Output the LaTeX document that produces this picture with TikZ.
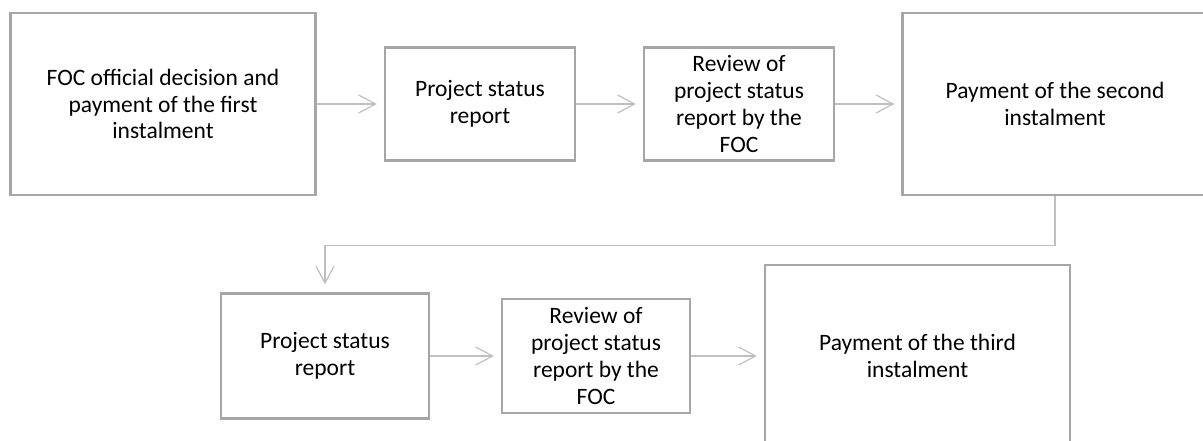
\documentclass[tikz,border=0pt]{standalone}
\usepackage{fontspec}
\setmainfont{Carlito}
\usetikzlibrary{arrows.meta}
\definecolor{boxgray}{HTML}{A6A6A6}
\definecolor{linegray}{HTML}{BFBFBF}
\begin{document}
\begin{tikzpicture}[x=1pt,y=-1pt,
    stage/.style={draw=boxgray,line width=2.2pt,inner sep=0pt,align=center,
      font=\fontsize{23.5}{26.7}\selectfont},
    big/.style={stage,minimum width=305pt,minimum height=182pt},
    flow/.style={draw=linegray,line width=1.2pt,
      -{Straight Barb[length=17pt,width=18pt]},shorten >=7pt}]
      \path[use as bounding box] (0,0) rectangle (1203,441);
      % first row
      \node[big] at (163,104) (fd) {FOC official decision and\\payment of the first\\instalment};
      \node[stage,minimum width=190pt,minimum height=113pt] at (480,104) (r1) {Project status\\report};
      \node[stage,minimum width=190pt,minimum height=113pt] at (739,104) (v1) {Review of\\project status\\report by the\\FOC};
      \node[big] at (1055,104) (p2) {Payment of the second\\instalment};
      % second row
      \node[stage,minimum width=208pt,minimum height=125pt] at (325,356) (r2) {Project status\\report};
      \node[stage,minimum width=188pt,minimum height=114pt] at (596,356) (v2) {Review of\\project status\\report by the\\FOC};
      \node[big] at (917.5,356) (p3) {Payment of the third\\instalment};
      \path[flow] (fd) -- (r1);
      \path[flow] (r1) -- (v1);
      \path[flow] (v1) -- (p2);
      \path[flow,shorten >=8pt] (p2.south) -- ++(0,49) -| (r2.north);
      \path[flow] (r2) -- (v2);
      \path[flow] (v2) -- (p3);
    \end{tikzpicture}
\end{document}
